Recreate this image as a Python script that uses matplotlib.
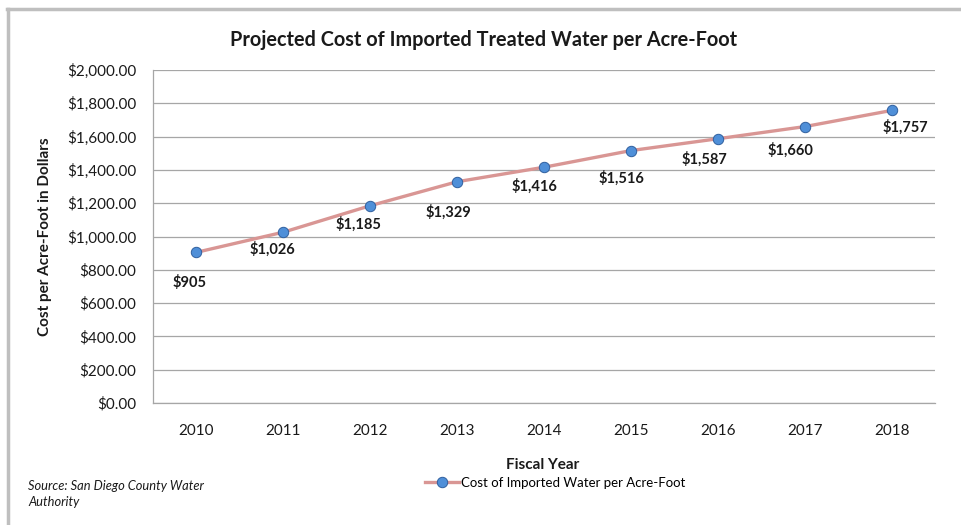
import matplotlib.pyplot as plt
from matplotlib.lines import Line2D
from matplotlib.ticker import FuncFormatter

plt.rcParams['font.family'] = ['Lato', 'DejaVu Sans']

years = ['2010', '2011', '2012', '2013', '2014', '2015', '2016', '2017', '2018']
cost = [905, 1026, 1185, 1329, 1416, 1516, 1587, 1660, 1757]
value_labels = ['$905', '$1,026', '$1,185', '$1,329', '$1,416', '$1,516', '$1,587', '$1,660', '$1,757']

# label offsets in pixels (placed by hand, as in the original)
label_offsets = [(-7, -30), (-11, -17), (-12, -18), (-9, -30), (-10, -19),
                 (-9, -28), (-13, -20), (-14, -24), (14, -17)]

fig = plt.figure(figsize=(9.61, 5.25), dpi=100)
ax = fig.add_axes([153 / 961, 1 - 403 / 525, (935 - 153) / 961, (403 - 70) / 525])

x = list(range(len(years)))
ax.plot(x, cost, color='#d99694', linewidth=2.4, marker='o', markersize=7.5,
        markerfacecolor='#4f8fd8', markeredgecolor='#2f5f9e', markeredgewidth=0.7,
        label='Cost of Imported Water per Acre-Foot', zorder=3)

for xi, yi, txt, off in zip(x, cost, value_labels, label_offsets):
    ax.annotate(txt, (xi, yi), xytext=off, textcoords='offset pixels',
                ha='center', va='center', fontsize=10.5, fontweight='bold', color='#1a1a1a')

ax.set_xlim(-0.5, len(years) - 0.5)
ax.set_ylim(0, 2000)
ax.set_yticks(range(0, 2001, 200))
ax.yaxis.set_major_formatter(FuncFormatter(lambda v, p: '${:,.2f}'.format(v)))
ax.set_xticks(x)
ax.set_xticklabels(years)
ax.tick_params(axis='both', length=0, labelsize=11, colors='#1a1a1a')
ax.tick_params(axis='x', pad=15)
ax.tick_params(axis='y', pad=12)

ax.grid(axis='y', color='#a6a6a6', linewidth=0.9)
ax.set_axisbelow(True)
for s in ['top', 'right']:
    ax.spines[s].set_visible(False)
for s in ['left', 'bottom']:
    ax.spines[s].set_color('#a6a6a6')
    ax.spines[s].set_linewidth(0.9)

fig.text(484 / 961, 1 - 40 / 525, 'Projected Cost of Imported Treated Water per Acre-Foot',
         ha='center', va='center', fontsize=14.3, fontweight='bold', color='#1a1a1a')
fig.text(45 / 961, 1 - 237 / 525, 'Cost per Acre-Foot in Dollars', rotation=90,
         ha='center', va='center', fontsize=11, fontweight='bold', color='#1a1a1a')
fig.text(543 / 961, 1 - 465 / 525, 'Fiscal Year',
         ha='center', va='center', fontsize=11, fontweight='bold', color='#1a1a1a')
fig.text(28 / 961, 1 - 480 / 525, 'Source: San Diego County Water\nAuthority',
         ha='left', va='top', fontsize=9.3, style='italic', color='#1a1a1a', linespacing=1.35)

fig.legend(loc='center', bbox_to_anchor=(555 / 961, 1 - 483 / 525), frameon=False,
           fontsize=9.5, handlelength=2.6, handletextpad=0.1, borderpad=0)

# gray frame on top and left edges
fig.add_artist(Line2D([7 / 961, 1], [1 - 9 / 525, 1 - 9 / 525], color='#bfbfbf', linewidth=2.5,
                      transform=fig.transFigure))
fig.add_artist(Line2D([8 / 961, 8 / 961], [0, 1 - 9 / 525], color='#bfbfbf', linewidth=2.5,
                      transform=fig.transFigure))

fig.savefig('out.png', dpi=100)
